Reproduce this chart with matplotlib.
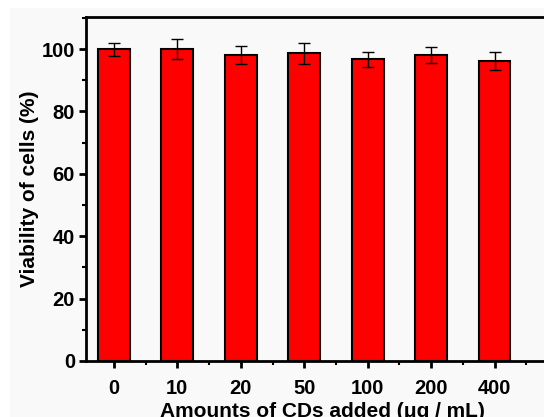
import matplotlib.pyplot as plt
import numpy as np
from matplotlib.patches import Rectangle
from matplotlib.ticker import MultipleLocator

plt.rcParams['font.family'] = ['Liberation Sans', 'DejaVu Sans']
plt.rcParams['font.weight'] = 'bold'

doses = ['0', '10', '20', '50', '100', '200', '400']
viability = [100.0, 100.0, 98.1, 98.6, 96.8, 98.1, 96.1]
errors = [2.1, 3.1, 3.0, 3.5, 2.4, 2.6, 2.9]

fig = plt.figure(figsize=(5.44, 4.17), dpi=100, facecolor='white')
fig.patches.append(Rectangle((10/544, 0), 1, 1 - 8/417, transform=fig.transFigure,
                             facecolor='#f9f9f9', edgecolor='none', zorder=-10))

ax = fig.add_axes([86/544, 56/417, 472/544, 344/417])
ax.set_facecolor('#f9f9f9')

x = np.arange(len(doses))
ax.bar(x, viability, width=0.5, color='#ff0000', edgecolor='black', linewidth=1.5,
       yerr=errors, capsize=4, error_kw=dict(elinewidth=1, capthick=1, ecolor='black'))

ax.set_xlim(-0.44, 7.0)
ax.set_ylim(0, 110.3)
ax.set_xticks(x)
ax.set_xticklabels(doses)
ax.xaxis.set_minor_locator(MultipleLocator(0.5))
ax.set_yticks(np.arange(0, 101, 20))
ax.yaxis.set_minor_locator(MultipleLocator(10))

for s in ax.spines.values():
    s.set_linewidth(2)
ax.spines['right'].set_visible(False)

ax.tick_params(axis='both', which='major', direction='out', length=5, width=2,
               labelsize=14.5, pad=3)
ax.tick_params(axis='both', which='minor', direction='out', length=3, width=1.5)
ax.tick_params(axis='x', which='major', pad=8)
ax.tick_params(top=False, right=False, which='both')

ax.set_xlabel('Amounts of CDs added (\u03bcg / mL)', fontsize=15, fontweight='bold', labelpad=3)
ax.set_ylabel('Viability of cells (%)', fontsize=15, fontweight='bold', labelpad=2)

fig.savefig('out.png', dpi=100, facecolor=fig.get_facecolor())
